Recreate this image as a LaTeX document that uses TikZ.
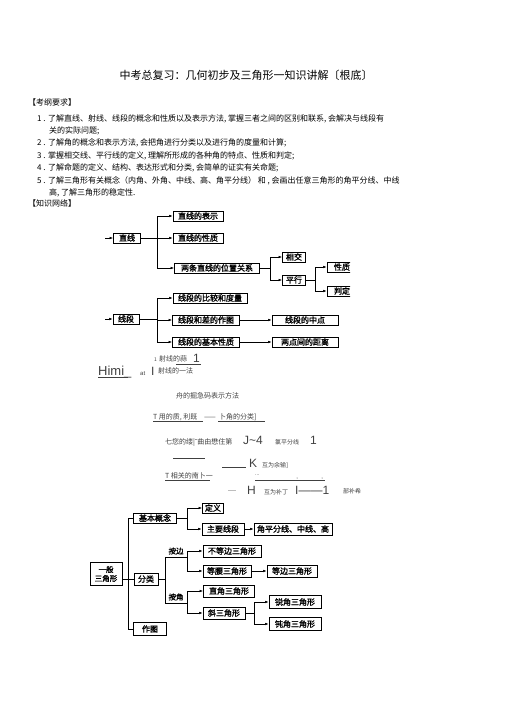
\documentclass[tikz,border=0pt]{standalone}
\usepackage{fontspec}
\setmainfont{Noto Sans CJK SC}
\newfontfamily\lat{Liberation Sans}
\newfontfamily\boxfont{Noto Sans CJK SC}[FakeBold=1.5]
\usetikzlibrary{arrows.meta}

\tikzset{
  box/.style={draw, line width=0.8pt, inner sep=1pt, minimum height=10pt,
    font=\boxfont\fontsize{8}{9}\selectfont},
  arr/.style={-{Latex[length=3.5pt,width=2.6pt]}, line width=0.5pt},
  ln/.style={line width=0.5pt},
  body/.style={anchor=base west, inner sep=0pt, font=\fontsize{8}{9}\selectfont},
  junk/.style={anchor=base west, inner sep=0pt, font=\fontsize{7}{7}\selectfont, text=black!75},
  big/.style={anchor=base west, inner sep=0pt, font=\lat\fontsize{12}{12}\selectfont, text=black!75},
}

\begin{document}
\begin{tikzpicture}[x=1pt,y=-1pt]
  \useasboundingbox (0,0) rectangle (505,714);

  % title and text
  \node[inner sep=0pt, font=\fontsize{11}{12}\selectfont] (title) at (246,75) {中考总复习：几何初步及三角形一知识讲解〔根底〕};
  \node[body] (yq) at (28,106) {【考纲要求】};
  \node[body] (t1) at (37,122) {1 . 了解直线、射线、线段的概念和性质以及表示方法, 掌握三者之间的区别和联系, 会解决与线段有};
  \node[body] (t1b) at (49,134) {关的实际问题;};
  \node[body] (t2) at (37,146) {2 . 了解角的概念和表示方法, 会把角进行分类以及进行角的度量和计算;};
  \node[body] (t3) at (37,159) {3 . 掌握相交线、平行线的定义, 理解所形成的各种角的特点、性质和判定;};
  \node[body] (t4) at (37,171) {4 . 了解命题的定义、结构、表达形式和分类, 会简单的证实有关命题;};
  \node[body] (t5) at (37,183) {5 . 了解三角形有关概念（内角、外角、中线、高、角平分线） 和 , 会画出任意三角形的角平分线、中线};
  \node[body] (t5b) at (49,195) {高, 了解三角形的稳定性.};
  \node[body] (wl) at (28,206) {【知识网络】};

  % lines
  \node[box, minimum width=27pt] (zhixian) at (127,238) {直线};
  \node[box, minimum width=50pt] (zxbs) at (198,216) {直线的表示};
  \node[box, minimum width=50pt] (zxxz) at (198,238) {直线的性质};
  \node[box, minimum width=85pt] (wzgx) at (217,268) {两条直线的位置关系};
  \node[box, minimum width=23pt] (xj) at (294,257) {相交};
  \node[box, minimum width=23pt] (px) at (294,280) {平行};
  \begin{scope}
    \clip (0,0) rectangle (350,714);
    \node[box, minimum width=30pt] (xz) at (342,267) {性质\hspace{6pt}};
    \node[box, minimum width=30pt] (pd) at (342,291) {判定\hspace{6pt}};
  \end{scope}
  \coordinate (inzx) at (105,238);
  \coordinate (f1) at (157,238);
  \coordinate (f2) at (270,268);
  \coordinate (f3) at (315,280);
  \draw[arr] (inzx) -- (zhixian);
  \draw[ln] (zhixian) -- (f1);
  \draw[arr] (f1) |- (zxbs);
  \draw[arr] (f1) -- (zxxz);
  \draw[arr] (f1) |- (wzgx);
  \draw[ln] (wzgx) -- (f2);
  \draw[arr] (f2) |- (xj);
  \draw[arr] (f2) |- (px);
  \draw[ln] (px) -- (f3);
  \draw[arr] (f3) |- (xz);
  \draw[arr] (f3) |- (pd);

  % segments
  \node[box, minimum width=26pt] (xd) at (126,319) {线段};
  \node[box, minimum width=74pt] (bjdl) at (210,298) {线段的比较和度量};
  \node[box, minimum width=67pt] (hczt) at (206,320) {线段和差的作图};
  \node[box, minimum width=67pt] (jbxz) at (206,342) {线段的基本性质};
  \node[box, minimum width=66pt] (zd) at (305,320) {线段的中点};
  \node[box, minimum width=66pt] (jl) at (305,342) {两点间的距离};
  \coordinate (inxd) at (105,319);
  \coordinate (f4) at (157,319);
  \draw[arr] (inxd) -- (xd);
  \draw[ln] (xd) -- (f4);
  \draw[arr] (f4) |- (bjdl);
  \draw[arr] (f4 |- hczt) -- (hczt);
  \draw[ln] (f4) -- (f4 |- hczt);
  \draw[arr] (f4) |- (jbxz);
  \draw[arr] (hczt) -- (zd);
  \draw[arr] (jbxz) -- (jl);

  % broken text
  \node[big, font=\lat\fontsize{13}{13}\selectfont] (himi) at (98,375) {Himi\_};
  \draw[ln, black!75] (98,377) -- (128,377);
  \node[junk, font=\lat\fontsize{6}{6}\selectfont] (at) at (140,375) {at};
  \node[big] (bar1) at (151,375) {I};
  \node[junk, font=\fontsize{5}{5}\selectfont] (one1) at (154,361) {1};
  \node[junk] (sx1) at (159,361) {射线的蒜};
  \draw[ln, black!75] (176,364) -- (201,364);
  \node[big] (one2) at (193,362) {1};
  \node[junk] (sx2) at (158,373) {射线的一法};
  \node[junk] (jd1) at (176,398) {舟的掘急码表示方法};
  \node[junk] (jd2) at (153,419) {T 用的质, 利既};
  \node[junk] (jd2b) at (204,419) {——};
  \node[junk] (jd2c) at (219,419) {卜角的分类]};
  \draw[ln, black!75] (153,421) -- (203,421);
  \draw[ln, black!75] (218,421) -- (265,421);
  \node[junk] (jd3) at (165,444) {七您的缕|{\lat ˜}曲由懋住第};
  \node[big] (j4) at (243,444) {J\textasciitilde4};
  \node[junk, font=\fontsize{6}{6}\selectfont] (jd4) at (275,444) {氯平分线};
  \node[big] (one3) at (310,444) {1};
  \draw[ln, black!75] (173,458) -- (205,458);
  \draw[ln, black!75] (222,467) -- (246,467);
  \node[big] (kk) at (249,467) {K};
  \node[junk, font=\fontsize{6}{6}\selectfont] (jd5) at (262,467) {互为余输]};
  \node[junk] (jd6) at (165,478) {T 相关的南卜一};
  \draw[ln, black!75] (165,480) -- (210,480);
  \node[junk, font=\lat\fontsize{5}{5}\selectfont] (dots) at (255,475) {...};
  \fill[black!75] (297,478) circle (0.5) (322,478) circle (0.5);
  \draw[ln, black!75] (255,480) -- (325,480);
  \node[junk, font=\lat\fontsize{6}{6}\selectfont] (dash) at (228,492) {-{}-{}-{}-};
  \node[big] (hh) at (247,494) {H};
  \node[junk, font=\fontsize{6}{6}\selectfont] (jd7) at (264,494) {互为补丁};
  \node[big] (bar2) at (295,494) {I——1};
  \node[junk, font=\fontsize{6}{6}\selectfont] (jd8) at (343,493) {部补希};

  % triangles
  \node[box, minimum width=32pt, minimum height=23pt, align=center,
    font=\boxfont\fontsize{7.5}{9}\selectfont] (yb) at (106,574) {一般\\三角形};
  \node[box, minimum width=43pt] (jbgn) at (155,518) {基本概念};
  \node[box, minimum width=24pt, minimum height=12pt] (fl) at (146,579) {分类};
  \node[box, minimum width=33pt, minimum height=13pt] (zt) at (150,629) {作图};
  \node[box, minimum width=21pt] (dyi) at (213,508) {定义};
  \node[box, minimum width=42pt, minimum height=12pt] (zyxd) at (223,529) {主要线段};
  \node[box, minimum width=78pt, minimum height=12pt] (jpf) at (293,529) {角平分线、中线、高};
  \node[box, minimum width=58pt, minimum height=12pt] (bdb) at (232,551) {不等边三角形};
  \node[box, minimum width=48pt, minimum height=12pt] (dyao) at (227,571) {等腰三角形};
  \node[box, minimum width=50pt, minimum height=12pt] (db) at (292,571) {等边三角形};
  \node[box, minimum width=51pt, minimum height=12pt] (zj) at (229,591) {直角三角形};
  \node[box, minimum width=42pt, minimum height=12pt] (xie) at (224,613) {斜三角形};
  \node[box, minimum width=52pt, minimum height=13pt] (rj) at (295,602) {锐角三角形};
  \node[box, minimum width=52pt, minimum height=13pt] (dj) at (295,624) {钝角三角形};
  \node[inner sep=0pt, font=\boxfont\fontsize{7.5}{8}\selectfont] (ab) at (176,551) {按边};
  \node[inner sep=0pt, font=\boxfont\fontsize{7.5}{8}\selectfont] (aj) at (176,597) {按角};
  \coordinate (m1) at (128,579);
  \coordinate (f5) at (187,518);
  \coordinate (f6) at (165,579);
  \coordinate (f7) at (187,557);
  \coordinate (f8) at (187,603);
  \coordinate (f9) at (254,613);
  \draw[ln] (yb.east |- m1) -- (m1);
  \draw[ln] (m1) |- (jbgn);
  \draw[ln] (m1) -- (fl);
  \draw[ln] (m1) |- (zt);
  \draw[ln] (jbgn) -- (f5);
  \draw[arr] (f5) |- (dyi);
  \draw[arr] (f5) |- (zyxd);
  \draw[arr] (zyxd) -- (jpf);
  \draw[ln] (fl) -- (f6);
  \draw[ln] (f6) |- (f7);
  \draw[ln] (f6) |- (f8);
  \draw[arr] (f7) |- (bdb);
  \draw[arr] (f7) |- (dyao);
  \draw[arr] (dyao) -- (db);
  \draw[arr] (f8) |- (zj);
  \draw[arr] (f8) |- (xie);
  \draw[ln] (xie) -- (f9);
  \draw[arr] (f9) |- (rj);
  \draw[arr] (f9) |- (dj);
\end{tikzpicture}
\end{document}
